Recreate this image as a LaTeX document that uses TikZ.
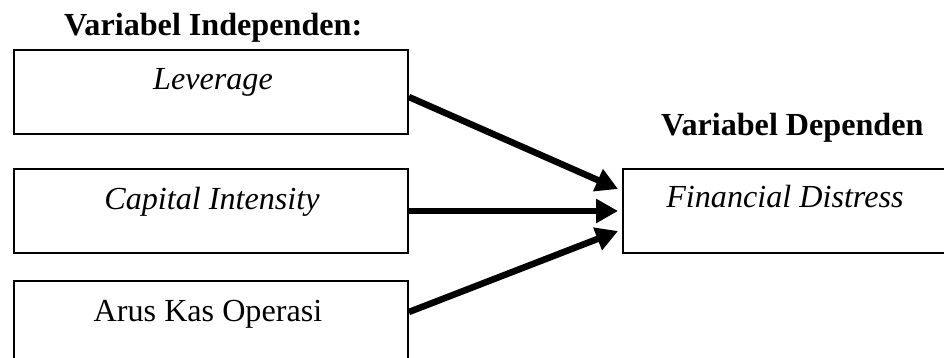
\documentclass[tikz,border=0pt]{standalone}
\usepackage{fontspec}
\setmainfont{Liberation Serif}
\usetikzlibrary{arrows.meta,calc}
\begin{document}
\begin{tikzpicture}[x=0.02cm,y=-0.02cm,
  font=\fontsize{18.3}{22}\selectfont,
  kotak/.style={draw,line width=1.1pt,inner sep=0pt,minimum width=7.88cm,minimum height=1.68cm},
  panah/.style={line width=0.13cm,-{Triangle[length=0.44cm,width=0.46cm]}}]
\useasboundingbox (0,0) rectangle (944,358);
% judul
\node[anchor=base west] (judulx) at (58,36) {\textbf{Variabel Independen:}};
\node[anchor=base west] (juduly) at (655,136) {\textbf{Variabel Dependen}};
% kotak variabel
\node[kotak] (lev) at (211,92) {};
\node[kotak] (cap) at (211,211) {};
\node[kotak] (aru) at (211,323) {};
\node[kotak,minimum width=6.8cm] (fd) at (793,211) {};
\node[anchor=base] (levteks) at ($(lev.north)+(2,40)$) {\textit{Leverage}};
\node[anchor=base] (capteks) at ($(cap.north)+(1,41)$) {\textit{Capital Intensity}};
\node[anchor=base] (aruteks) at ($(aru.north)+(-3,41)$) {Arus Kas Operasi};
\node[anchor=base west] (fdteks) at ($(fd.north west)+(38,39)$) {\textit{Financial Distress}};
% panah
\draw[panah] ($(lev.east)+(0,5)$) -- ($(fd.west)+(-4,-22)$);
\draw[panah] (cap.east) -- ($(fd.west)+(-4,0)$);
\draw[panah] ($(aru.east)+(0,-11)$) -- ($(fd.west)+(-4,20)$);
\end{tikzpicture}
\end{document}
